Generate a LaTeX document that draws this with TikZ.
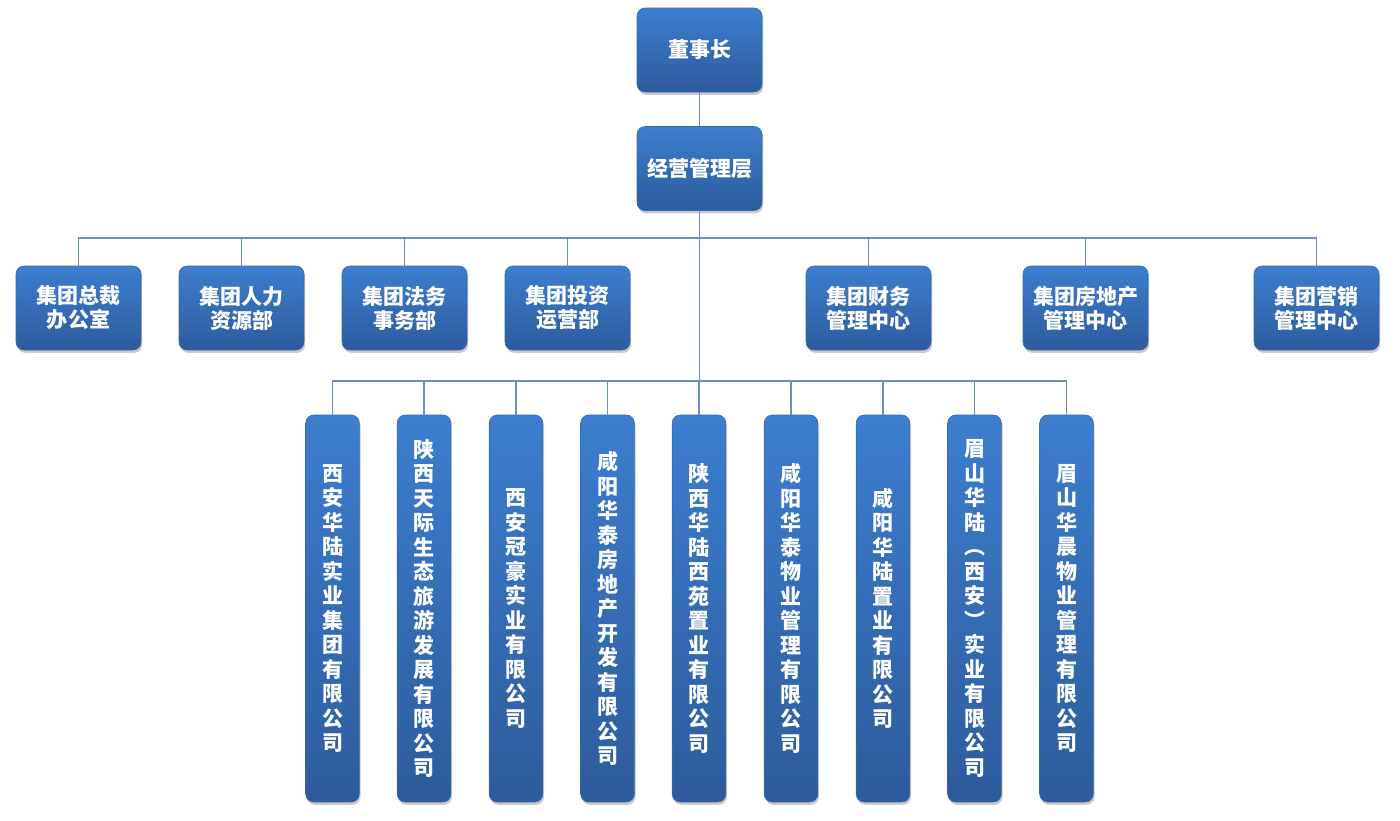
\documentclass[tikz,border=0pt]{standalone}
\usepackage{fontspec}
\setmainfont{Noto Sans CJK SC}
\usetikzlibrary{shadows}
\definecolor{boxtop}{HTML}{3C7ECF}
\definecolor{boxbot}{HTML}{2D5B9B}
\definecolor{boxedge}{HTML}{3468AE}
\definecolor{linkc}{HTML}{6B8FC4}
\tikzset{
  orgbox/.style={rounded corners=4pt, top color=boxtop, bottom color=boxbot, draw=boxedge, line width=0.3pt,
    drop shadow={shadow xshift=0.6pt, shadow yshift=-1.4pt, opacity=0.35, fill=black!60},
    text=white, font=\fontsize{10.5}{12}\selectfont\bfseries, align=center, inner sep=0pt},
  topbox/.style={orgbox, minimum width=62.5pt, minimum height=42pt},
  deptbox/.style={orgbox, minimum width=62.5pt, minimum height=42pt},
  cobox/.style={orgbox, minimum width=26.8pt, minimum height=193.5pt, font=\fontsize{10.5}{12.25}\selectfont\bfseries},
  link/.style={draw=linkc, line width=0.6pt}
}
\begin{document}
\begin{tikzpicture}[x=0.5pt, y=-0.5pt]
\useasboundingbox (0,0) rectangle (1400,820);
% links
\coordinate (bus2) at (699.5,238);
\coordinate (bus3) at (699.5,381);
\node[topbox] (ceo) at (699.5,50) {董事长};
\node[topbox] (mgmt) at (699.5,168.5) {经营管理层};

\node[deptbox] (d1) at (78.5,308) {集团总裁\\办公室};
\node[deptbox] (d2) at (241.5,308) {集团人力\\资源部};
\node[deptbox] (d3) at (404.5,308) {集团法务\\事务部};
\node[deptbox] (d4) at (567.5,308) {集团投资\\运营部};
\node[deptbox] (d5) at (868.5,308) {集团财务\\管理中心};
\node[deptbox] (d6) at (1085.5,308) {集团房地产\\管理中心};
\node[deptbox] (d7) at (1316.5,308) {集团营销\\管理中心};

\node[cobox] (c1) at (332.5,608.5) {西\\安\\华\\陆\\实\\业\\集\\团\\有\\限\\公\\司};
\node[cobox] (c2) at (424,608.5) {陕\\西\\天\\际\\生\\态\\旅\\游\\发\\展\\有\\限\\公\\司};
\node[cobox] (c3) at (516,608.5) {西\\安\\冠\\豪\\实\\业\\有\\限\\公\\司};
\node[cobox] (c4) at (607.5,608.5) {咸\\阳\\华\\泰\\房\\地\\产\\开\\发\\有\\限\\公\\司};
\node[cobox] (c5) at (699,608.5) {陕\\西\\华\\陆\\西\\苑\\置\\业\\有\\限\\公\\司};
\node[cobox] (c6) at (791,608.5) {咸\\阳\\华\\泰\\物\\业\\管\\理\\有\\限\\公\\司};
\node[cobox] (c7) at (883,608.5) {咸\\阳\\华\\陆\\置\\业\\有\\限\\公\\司};
\node[cobox] (c8) at (974.5,608.5) {眉\\山\\华\\陆\\︵\\西\\安\\︶\\实\\业\\有\\限\\公\\司};
\node[cobox] (c9) at (1066.5,608.5) {眉\\山\\华\\晨\\物\\业\\管\\理\\有\\限\\公\\司};

\begin{scope}[on background layer/.try]
\end{scope}
\draw[link] (ceo.south) -- (mgmt.north);
\draw[link] (mgmt.south) -- (bus3);
\foreach \n in {d1,d2,d3,d4,d5,d6,d7} \draw[link] (bus2) -| (\n.north);
\foreach \n in {c1,c2,c3,c4,c5,c6,c7,c8,c9} \draw[link] (bus3) -| (\n.north);
\end{tikzpicture}
\end{document}
